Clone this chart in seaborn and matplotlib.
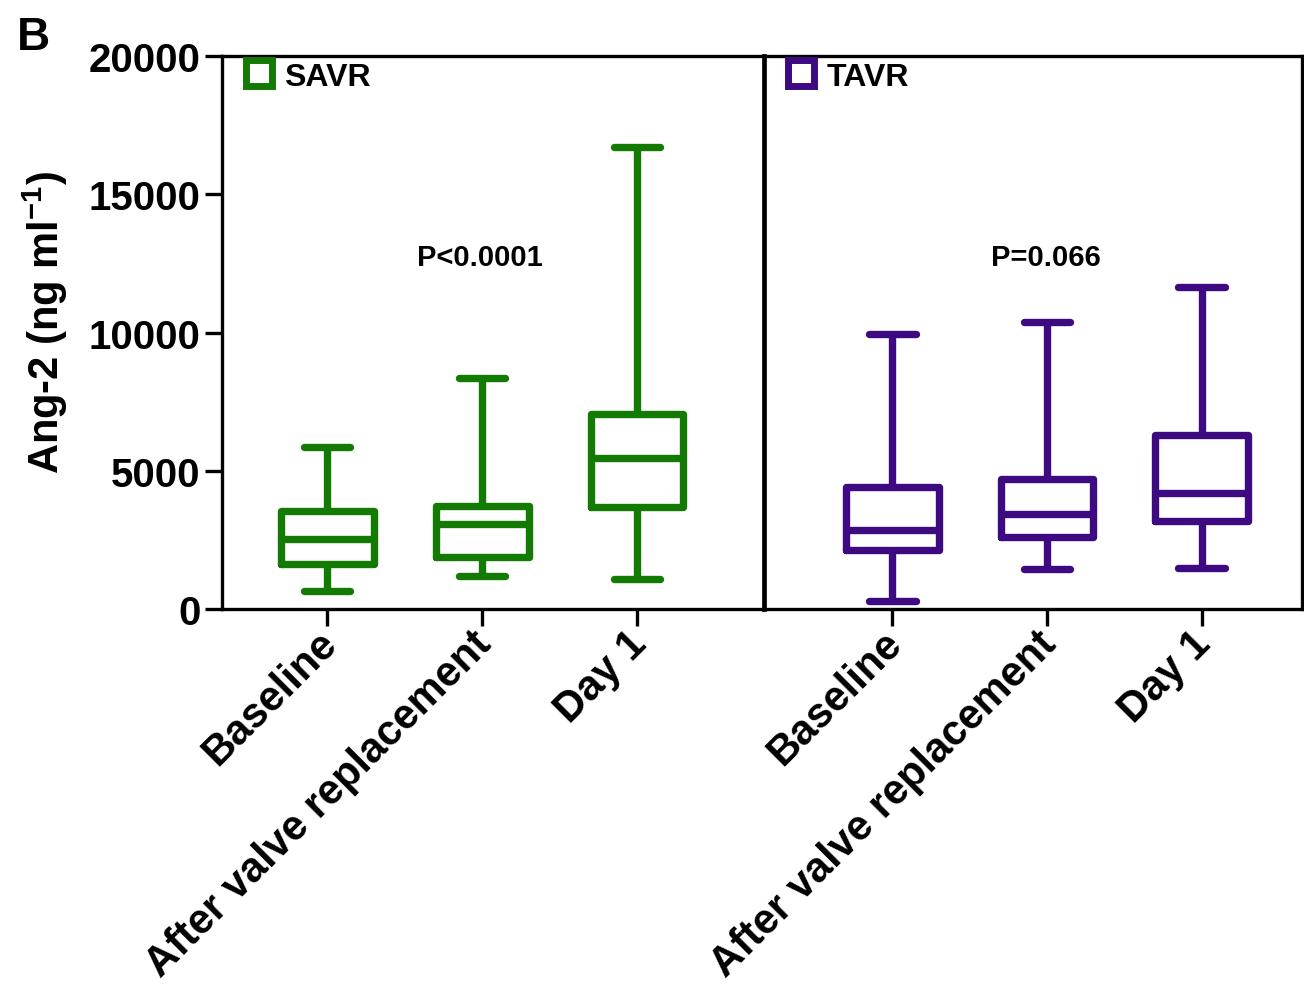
import numpy as np
import pandas as pd
import matplotlib
matplotlib.use("Agg")
import matplotlib.pyplot as plt
import seaborn as sns
from matplotlib.lines import Line2D

# five-number summaries: min, q1, median, q3, max
times = ["Baseline", "After valve replacement", "Day 1"]
savr_min = [650, 1190, 1090]
savr_q1 = [1630, 1880, 3690]
savr_med = [2530, 3070, 5460]
savr_q3 = [3540, 3720, 7050]
savr_max = [5860, 8350, 16710]

tavr_min = [290, 1450, 1480]
tavr_q1 = [2130, 2600, 3180]
tavr_med = [2860, 3440, 4200]
tavr_q3 = [4410, 4700, 6290]
tavr_max = [9950, 10380, 11650]

groups = ["SAVR", "TAVR"]
pvals = ["P<0.0001", "P=0.066"]
colors = ["#137b03", "#3d0a82"]

sns.set_style("white")
plt.rcParams["font.family"] = ["Liberation Sans", "DejaVu Sans"]
plt.rcParams["font.weight"] = "bold"
plt.rcParams["text.color"] = "black"
plt.rcParams["xtick.color"] = "black"
plt.rcParams["ytick.color"] = "black"
plt.rcParams["axes.labelcolor"] = "black"
plt.rcParams["mathtext.fontset"] = "custom"
plt.rcParams["mathtext.rm"] = "Liberation Sans:bold"
plt.rcParams["mathtext.default"] = "rm"


def long_frame(mins, q1s, meds, q3s, maxs):
    # five values per group give exactly these quartiles and extremes
    rows = []
    for t, a, b, c, d, e in zip(times, mins, q1s, meds, q3s, maxs):
        for v in (a, b, c, d, e):
            rows.append({"time": t, "value": v})
    return pd.DataFrame(rows)


frames = [long_frame(savr_min, savr_q1, savr_med, savr_q3, savr_max),
          long_frame(tavr_min, tavr_q1, tavr_med, tavr_q3, tavr_max)]

fig = plt.figure(figsize=(13.04, 9.87), dpi=100)
ax1 = fig.add_axes([0.1702, 0.382, 0.4157, 0.560])
ax2 = fig.add_axes([0.5859, 0.382, 0.4126, 0.560], sharey=ax1)
ax2.patch.set_visible(False)

lw = 5.3
ptext_pos = [(0.476, 0.637), (0.524, 0.637)]
for ax, df, col, grp, p, pp in zip([ax1, ax2], frames, colors, groups, pvals, ptext_pos):
    sns.boxplot(data=df, x="time", y="value", ax=ax, whis=(0, 100),
                width=0.6, fill=False, color=col, linewidth=lw,
                capprops=dict(solid_capstyle="round"),
                whiskerprops=dict(solid_capstyle="butt"))
    ax.set_xlabel("")
    ax.set_ylabel("")
    ax.set_ylim(0, 20000)
    ax.set_yticks([0, 5000, 10000, 15000, 20000])
    ax.tick_params(axis="x", labelsize=30, rotation=45, length=12, width=2.4,
                   direction="out", bottom=True, pad=6)
    for lab in ax.get_xticklabels():
        lab.set_ha("right")
        lab.set_va("center_baseline")
        lab.set_rotation_mode("anchor")
        lab.set_fontweight("bold")
    for s in ax.spines.values():
        s.set_linewidth(2.4)
        s.set_color("black")
    ax.text(pp[0], pp[1], p, transform=ax.transAxes, ha="center", va="center",
            fontsize=21, fontweight="bold")
    h = Line2D([], [], ls="none", marker="s", markersize=19, markeredgewidth=5,
               markeredgecolor=col, markerfacecolor="white")
    leg = ax.legend(handles=[h], labels=[grp], loc="upper left", frameon=False,
                    fontsize=23, handletextpad=0.25, borderaxespad=0.2,
                    bbox_to_anchor=(0.0, 1.025), handlelength=1.1)
    for t in leg.get_texts():
        t.set_fontweight("bold")

ax1.set_xlim(-0.68, 2.82)
ax2.set_xlim(-0.83, 2.65)

ax1.spines["right"].set_linewidth(3.4)
ax2.spines["left"].set_visible(False)
ax1.tick_params(axis="y", labelsize=29, length=12, width=2.4, direction="out", left=True)
for lab in ax1.get_yticklabels():
    lab.set_fontweight("bold")
ax2.tick_params(axis="y", left=False, labelleft=False)

ax1.set_ylabel("Ang-2 (ng ml$^{-1}$)", fontsize=30, fontweight="bold")
ax1.yaxis.set_label_coords(-0.28, 0.52)
fig.text(0.013, 0.962, "B", fontsize=33, fontweight="bold", va="center")

fig.savefig("out.png", dpi=100)
plt.close(fig)
